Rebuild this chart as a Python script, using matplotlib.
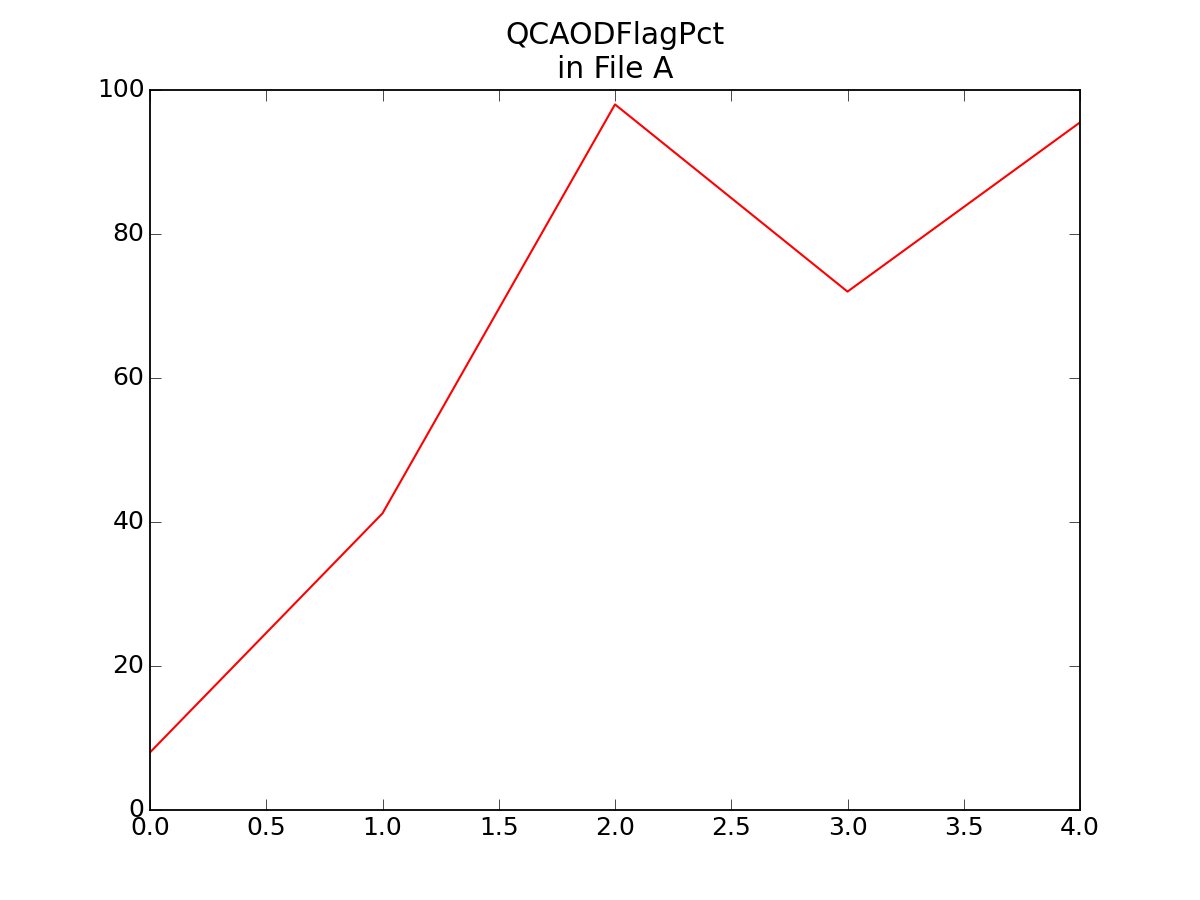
import numpy as np
import matplotlib
matplotlib.use("Agg")
import matplotlib.pyplot as plt

# data
x_vals = [0, 1, 2, 3, 4]
flag_pct = [8.0, 41.2, 98.0, 72.0, 95.5]

plt.style.use("classic")

fig = plt.figure(figsize=(12, 9), dpi=100)
ax = fig.add_subplot(111)
fig.subplots_adjust(left=0.125, right=0.9, bottom=0.1, top=0.9)

ax.plot(x_vals, flag_pct, color="r", linewidth=1.5)

ax.set_xlim(0, 4)
ax.set_ylim(0, 100)
ax.set_xticks(np.arange(0, 4.01, 0.5))
ax.set_yticks(np.arange(0, 101, 20))
ax.tick_params(labelsize=18, length=8)
for s in ax.spines.values():
    s.set_linewidth(1.3)

ax.set_title("QCAODFlagPct\nin File A", fontsize=21.5, pad=9)

fig.savefig("out.png", dpi=100, facecolor="white")
